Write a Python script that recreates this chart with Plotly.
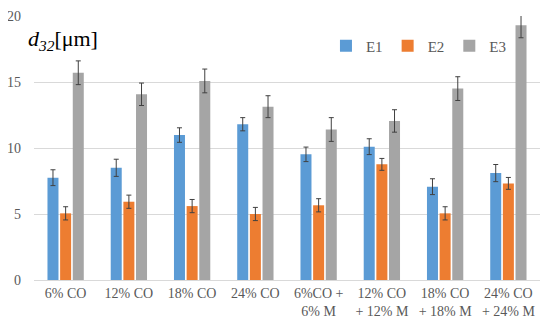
import plotly.graph_objects as go

categories = ["6% CO", "12% CO", "18% CO", "24% CO",
              "6%CO +<br>6% M", "12% CO<br>+ 12% M", "18% CO<br>+ 18% M", "24% CO<br>+ 24% M"]
e1 = [7.75, 8.5, 10.98, 11.8, 9.52, 10.1, 7.07, 8.1]
e1_err = [0.6, 0.65, 0.55, 0.5, 0.55, 0.6, 0.6, 0.65]
e2 = [5.05, 5.93, 5.6, 5.0, 5.66, 8.76, 5.05, 7.32]
e2_err = [0.5, 0.5, 0.5, 0.5, 0.5, 0.45, 0.5, 0.45]
e3 = [15.7, 14.07, 15.08, 13.13, 11.4, 12.05, 14.5, 19.3]
e3_err = [0.9, 0.85, 0.9, 0.83, 0.9, 0.85, 0.9, 0.95]

series = [("E1", e1, e1_err, "#5B9BD5"),
          ("E2", e2, e2_err, "#ED7D31"),
          ("E3", e3, e3_err, "#A5A5A5")]

fig = go.Figure()
for name, vals, errs, col in series:
    fig.add_trace(go.Bar(
        name=name, x=categories, y=vals, marker_color=col, marker_line_width=0,
        error_y=dict(type="data", array=errs, color="#404040", thickness=1, width=2.5),
    ))

font_family = "Liberation Serif"
fig.update_layout(
    width=550, height=329,
    margin=dict(l=26, r=18, t=8, b=57, autoexpand=False),
    plot_bgcolor="white", paper_bgcolor="white",
    barmode="group", bargap=0.4, bargroupgap=0.13,
    font=dict(family=font_family, size=14, color="#595959"),
    legend=dict(orientation="h", x=0.577, y=0.886, xanchor="left", yanchor="middle",
                font=dict(size=15, color="#595959", family=font_family), itemwidth=30,
                bgcolor="rgba(0,0,0,0)"),
    xaxis=dict(showgrid=False, showline=True, linecolor="#D9D9D9", ticks="",
               automargin=False,
               tickfont=dict(size=14, color="#595959", family=font_family)),
    yaxis=dict(range=[0, 20], dtick=5, showgrid=True, gridcolor="#D9D9D9",
               zeroline=False, showline=False, ticks="", ticklabelstandoff=12,
               automargin=False, ticklabeloverflow="allow",
               tickfont=dict(size=14, color="#595959", family=font_family)),
    annotations=[dict(
        text="<i>d<sub>32</sub></i>[μm]", xref="paper", yref="paper",
        x=-0.016, y=0.909, xanchor="left", yanchor="middle", showarrow=False,
        font=dict(size=22, color="#000000", family=font_family),
    )],
)

fig.write_html("out.html")
